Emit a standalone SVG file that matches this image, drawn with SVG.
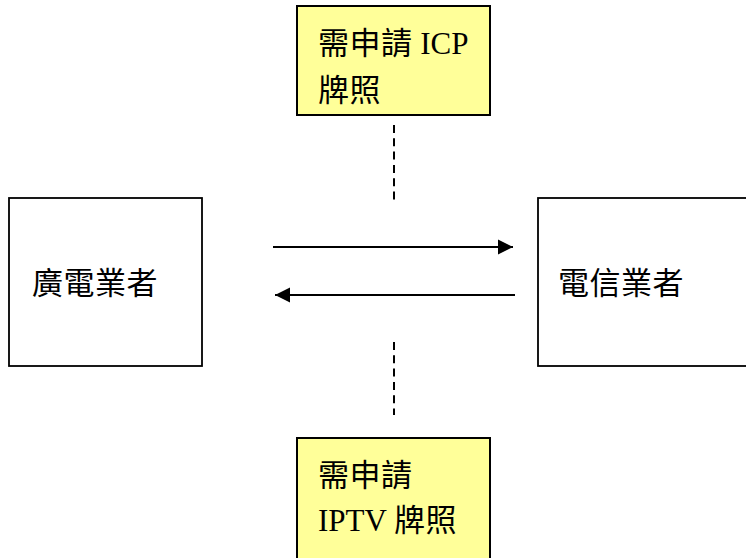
<svg xmlns="http://www.w3.org/2000/svg" width="746" height="558" viewBox="0 0 746 558">
<style>
.box{fill:#ffffff;stroke:#000000;stroke-width:1.8}
.note{fill:#ffff99;stroke:#000000;stroke-width:2}
.t{font-family:"Liberation Serif","Noto Sans CJK TC",serif;font-size:31px;fill:#000000}
.k{letter-spacing:0.5px}
.c{fill:none;stroke:#000000;stroke-width:2}
.d{fill:none;stroke:#000000;stroke-width:2;stroke-dasharray:8 5.3}
</style>
<defs>
<marker id="ah" markerWidth="16" markerHeight="16" viewBox="0 0 16 16" refX="15" refY="8" orient="auto" markerUnits="userSpaceOnUse">
<path d="M0,0.5 L15,8 L0,15.5 Z" fill="#000000"/>
</marker>
</defs>
<rect width="746" height="558" fill="#ffffff"/>
<g id="node-icp">
<rect class="note" x="297" y="6" width="193" height="109"/>
<text class="t" x="318" y="54"><tspan class="k">需申請</tspan> ICP</text>
<text class="t k" x="318" y="101">牌照</text>
</g>
<g id="node-iptv">
<rect class="note" x="297" y="438" width="193" height="125"/>
<text class="t k" x="318" y="486">需申請</text>
<text class="t" x="318" y="531">IPTV <tspan class="k">牌照</tspan></text>
</g>
<g id="node-broadcast">
<rect class="box" x="9" y="198" width="193" height="168"/>
<text class="t k" x="32" y="294">廣電業者</text>
</g>
<g id="node-telecom">
<rect class="box" x="538" y="198" width="220" height="168"/>
<text class="t k" x="558" y="294">電信業者</text>
</g>
<g id="connectors">
<line class="c" x1="273" y1="247" x2="513" y2="247" marker-end="url(#ah)"/>
<line class="c" x1="515" y1="295" x2="275" y2="295" marker-end="url(#ah)"/>
<line class="d" x1="394" y1="125" x2="394" y2="200"/>
<line class="d" x1="394" y1="342" x2="394" y2="415"/>
</g>
</svg>
